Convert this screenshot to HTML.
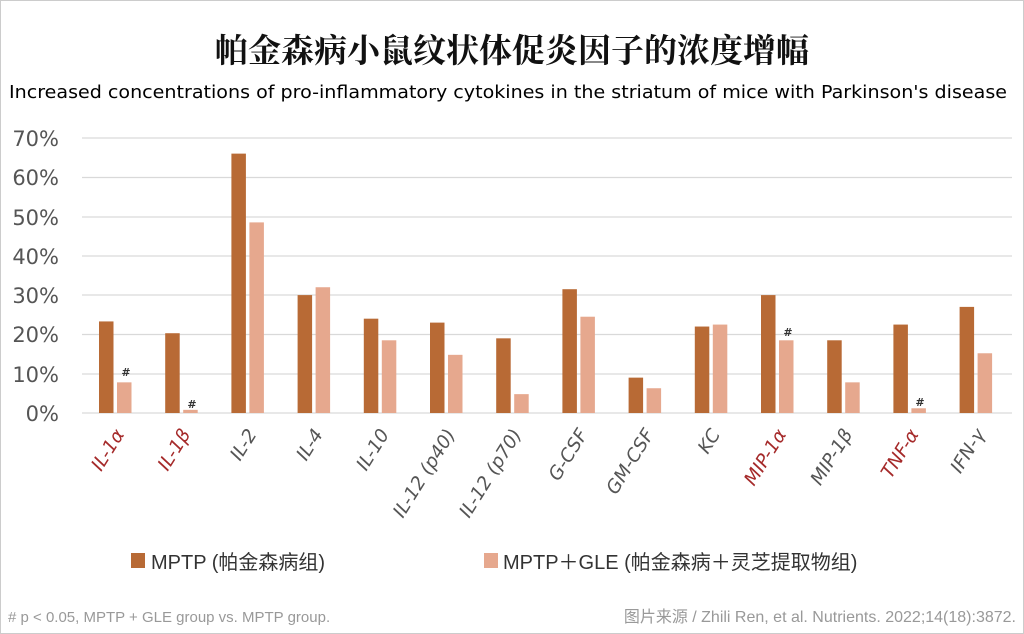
<!DOCTYPE html>
<html><head><meta charset="utf-8"><style>
body{margin:0;background:#fff;}
svg{display:block}
</style></head><body>
<svg width="1024" height="634" xmlns="http://www.w3.org/2000/svg">
<rect x="0.5" y="0.5" width="1023" height="633" fill="#fff" stroke="#ccc"/>
<text x="512" y="62" text-anchor="middle" font-family="'Noto Serif CJK SC',serif" font-weight="bold" font-size="33" fill="#111">帕金森病小鼠纹状体促炎因子的浓度增幅</text>
<text x="508" y="98" text-anchor="middle" textLength="998" lengthAdjust="spacingAndGlyphs" font-family="'DejaVu Sans',sans-serif" font-size="18" fill="#000">Increased concentrations of pro-inflammatory cytokines in the striatum of mice with Parkinson's disease</text>
<g stroke="#d9d9d9" stroke-width="1.2">
<line x1="82" x2="1012" y1="413" y2="413"/>
<line x1="82" x2="1012" y1="374" y2="374"/>
<line x1="82" x2="1012" y1="334.5" y2="334.5"/>
<line x1="82" x2="1012" y1="295" y2="295"/>
<line x1="82" x2="1012" y1="256" y2="256"/>
<line x1="82" x2="1012" y1="217" y2="217"/>
<line x1="82" x2="1012" y1="177.5" y2="177.5"/>
<line x1="82" x2="1012" y1="138" y2="138"/>
</g>
<g font-family="'DejaVu Sans',sans-serif" font-size="21" fill="#555" text-anchor="end">
<text x="59" y="421">0%</text><text x="59" y="382">10%</text><text x="59" y="342">20%</text><text x="59" y="303">30%</text><text x="59" y="264">40%</text><text x="59" y="225">50%</text><text x="59" y="185">60%</text><text x="59" y="146">70%</text>
</g>
<g id="bars"></g>
<g font-family="'DejaVu Sans',sans-serif" font-size="11" font-weight="bold" fill="#333" text-anchor="middle">
<text x="126" y="376">#</text><text x="192" y="408">#</text><text x="788" y="336">#</text><text x="920" y="406">#</text>
</g>
<g id="labels" font-family="'DejaVu Sans',sans-serif" font-size="18.5" font-style="italic" text-anchor="end"></g>
<rect x="131" y="553" width="14" height="15" fill="#B86A35"/>
<text x="151" y="569" font-family="'Liberation Sans','Noto Sans CJK SC',sans-serif" font-size="20" fill="#333">MPTP (帕金森病组)</text>
<rect x="484" y="553" width="14" height="15" fill="#E6A88E"/>
<text x="503" y="569" font-family="'Liberation Sans','Noto Sans CJK SC',sans-serif" font-size="20" fill="#333">MPTP＋GLE (帕金森病＋灵芝提取物组)</text>
<text x="8" y="622" font-family="'Liberation Sans',sans-serif" font-size="15" fill="#999">#  p &lt; 0.05, MPTP + GLE group vs. MPTP group.</text>
<text x="1016" y="622" text-anchor="end" font-family="'Liberation Sans','Noto Sans CJK SC',sans-serif" font-size="16" fill="#999">图片来源 / Zhili Ren, et al. Nutrients. 2022;14(18):3872.</text>
</svg>
<script>
var d=[23.3,20.3,66,30,24,23,19,31.5,9,22,30,18.5,22.5,27];
var l=[7.8,0.8,48.5,32,18.5,14.8,4.8,24.5,6.3,22.5,18.5,7.8,1.2,15.2];
var n=["IL-1α","IL-1β","IL-2","IL-4","IL-10","IL-12 (p40)","IL-12 (p70)","G-CSF","GM-CSF","KC","MIP-1α","MIP-1β","TNF-α","IFN-γ"];
var red={0:1,1:1,10:1,12:1};
var ns="http://www.w3.org/2000/svg",b=document.getElementById("bars"),L=document.getElementById("labels");
for(var i=0;i<14;i++){var x=99+i*66.2;
function r(x,v,c){var e=document.createElementNS(ns,"rect");var h=v*3.93;e.setAttribute("x",x);e.setAttribute("y",413-h);e.setAttribute("width",14.5);e.setAttribute("height",h);e.setAttribute("fill",c);b.appendChild(e);}
r(x,d[i],"#B86A35");r(x+18,l[i],"#E6A88E");
var t=document.createElementNS(ns,"text");t.textContent=n[i];var cx=x+26,cy=434;
t.setAttribute("transform","translate("+cx+","+cy+") rotate(-58)");t.setAttribute("fill",red[i]?"#A52A2A":"#555");L.appendChild(t);}
</script>
</body></html>
